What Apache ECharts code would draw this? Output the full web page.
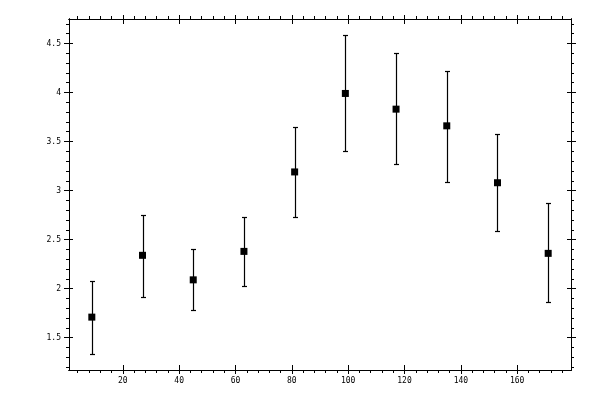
<!DOCTYPE html>
<html>
<head>
<meta charset="utf-8">
<script src="https://cdn.jsdelivr.net/npm/echarts@6/dist/echarts.min.js"></script>
<style>
html,body{margin:0;padding:0;background:#fff;}
#chart{width:600px;height:400px;}
</style>
</head>
<body>
<div id="chart"></div>
<script>
// x positions and measured values (mean with low / high of the error bar)
var xs    = [9, 27, 45, 63, 81, 99, 117, 135, 153, 171];
var means = [1.71, 2.34, 2.09, 2.38, 3.19, 3.99, 3.83, 3.66, 3.08, 2.36];
var lows  = [1.33, 1.92, 1.78, 2.03, 2.73, 3.40, 3.27, 3.09, 2.59, 1.86];
var highs = [2.08, 2.75, 2.40, 2.73, 3.65, 4.59, 4.40, 4.22, 3.58, 2.87];

// tick labels
var xLabels = [20, 40, 60, 80, 100, 120, 140, 160];
var yLabels = [1.5, 2, 2.5, 3, 3.5, 4, 4.5];

var xMin = 0.9, xMax = 179.1;
var yMin = 1.171, yMax = 4.749;

// minor ticks
var xMinor = [];
for (var i = 4; i < 180; i += 4) { xMinor.push(i); }
var yMinor = [];
for (var j = 12; j <= 47; j++) { yMinor.push(j / 10); }

function makeAxis(dim, pos, ticks, len, inside, labels) {
	var a = {
		type: 'value',
		position: pos,
		min: dim == 'x' ? xMin : yMin,
		max: dim == 'x' ? xMax : yMax,
		axisLine: {show: true, onZero: false, lineStyle: {color: '#000', width: 1}},
		splitLine: {show: false},
		axisTick: {show: true, inside: inside, length: len, customValues: ticks,
			lineStyle: {color: '#000', width: 1}},
		axisLabel: {show: false}
	};
	if (labels) {
		a.axisLabel = {
			show: true,
			customValues: ticks,
			color: '#000',
			fontFamily: 'DejaVu Sans Mono',
			fontSize: 8,
			margin: dim == 'x' ? 7 : 8
		};
	}
	return a;
}

var xAxes = [
	makeAxis('x', 'bottom', xLabels, 4, false, true),
	makeAxis('x', 'bottom', xLabels, 5, true, false),
	makeAxis('x', 'bottom', xMinor, 3, false, false),
	makeAxis('x', 'top', xLabels, 4, false, false),
	makeAxis('x', 'top', xLabels, 5, true, false),
	makeAxis('x', 'top', xMinor, 3, false, false)
];
var yAxes = [
	makeAxis('y', 'left', yLabels, 5, false, true),
	makeAxis('y', 'left', yLabels, 4, true, false),
	makeAxis('y', 'left', yMinor, 3, false, false),
	makeAxis('y', 'right', yLabels, 5, false, false),
	makeAxis('y', 'right', yLabels, 4, true, false),
	makeAxis('y', 'right', yMinor, 3, false, false)
];

var pointData = [];
var barData = [];
for (var k = 0; k < xs.length; k++) {
	pointData.push([xs[k], means[k]]);
	barData.push([xs[k], lows[k], highs[k]]);
}

function renderBar(params, api) {
	var top = api.coord([api.value(0), api.value(2)]);
	var bot = api.coord([api.value(0), api.value(1)]);
	var x = Math.round(top[0]) + 0.5;
	var y1 = Math.round(top[1]) + 0.5;
	var y2 = Math.round(bot[1]) + 0.5;
	var st = {stroke: '#000', lineWidth: 1.2};
	return {
		type: 'group',
		children: [
			{type: 'line', shape: {x1: x, y1: y1, x2: x, y2: y2}, style: st},
			{type: 'line', shape: {x1: x - 2.5, y1: y1, x2: x + 2.5, y2: y1}, style: st},
			{type: 'line', shape: {x1: x - 2.5, y1: y2, x2: x + 2.5, y2: y2}, style: st}
		]
	};
}

var myChart = echarts.init(document.getElementById('chart'), null, {renderer: 'canvas'});
var option = {
	animation: false,
	backgroundColor: '#fff',
	grid: {left: 69, right: 29, top: 19, bottom: 30},
	xAxis: xAxes,
	yAxis: yAxes,
	series: [
		{
			type: 'custom',
			renderItem: renderBar,
			data: barData,
			encode: {x: 0, y: [1, 2]},
			z: 2
		},
		{
			type: 'scatter',
			data: pointData,
			symbol: 'rect',
			symbolSize: 7,
			itemStyle: {color: '#000', opacity: 1},
			z: 3
		}
	]
};
myChart.setOption(option);
</script>
</body>
</html>
